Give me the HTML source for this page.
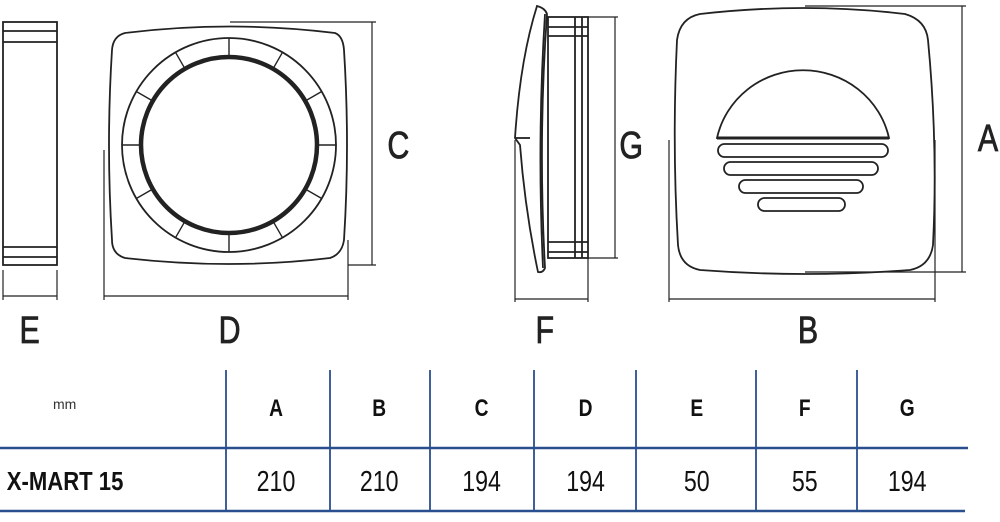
<!DOCTYPE html>
<html><head><meta charset="utf-8"><style>
html,body{margin:0;padding:0;background:#fff;width:1000px;height:522px;overflow:hidden}
svg{display:block}
.t{font-family:"Liberation Sans",sans-serif}
</style></head><body>
<svg width="1000" height="522" viewBox="0 0 1000 522" xmlns="http://www.w3.org/2000/svg">
<g fill="none" stroke="#222" stroke-width="1.8">
<!-- side view E -->
<rect x="3" y="22" width="54" height="243"/>
<line x1="3" y1="31" x2="57" y2="31"/><line x1="3" y1="42" x2="57" y2="42"/>
<line x1="3" y1="247" x2="57" y2="247"/><line x1="3" y1="257" x2="57" y2="257"/>
<line x1="3" y1="270" x2="3" y2="300" stroke-width="1.2"/><line x1="57" y1="270" x2="57" y2="300" stroke-width="1.2"/>
<line x1="3" y1="296" x2="57" y2="296" stroke-width="1.2"/>
<!-- front C/D -->
<path d="M125,33 Q230,20 335,33 Q343,36 344,50 Q350,145 344,240 Q342,254 330,258 Q230,270 125,258 Q112,254 112,240 Q106,145 112,50 Q113,36 125,33 Z"/>
<circle cx="229" cy="145" r="107"/>
<circle cx="229" cy="145" r="88" stroke-width="4.5"/>
<g stroke-width="1.4">
<line x1="229" y1="38" x2="229" y2="57"/><line x1="229" y1="233" x2="229" y2="252"/>
<line x1="122" y1="145" x2="141" y2="145"/><line x1="317" y1="145" x2="336" y2="145"/>
<line x1="175.5" y1="52.3" x2="185" y2="68.8"/><line x1="282.5" y1="52.3" x2="273" y2="68.8"/>
<line x1="175.5" y1="237.7" x2="185" y2="221.2"/><line x1="282.5" y1="237.7" x2="273" y2="221.2"/>
<line x1="136.3" y1="91.5" x2="152.8" y2="101"/><line x1="321.7" y1="91.5" x2="305.2" y2="101"/>
<line x1="136.3" y1="198.5" x2="152.8" y2="189"/><line x1="321.7" y1="198.5" x2="305.2" y2="189"/>
</g>
<g stroke-width="1.2">
<line x1="230" y1="22" x2="376" y2="22"/><line x1="348" y1="265" x2="376" y2="265"/>
<line x1="372" y1="22" x2="372" y2="265"/>
<line x1="104" y1="150" x2="104" y2="300"/><line x1="348" y1="240" x2="348" y2="300"/>
<line x1="104" y1="296" x2="348" y2="296"/>
</g>
<!-- side F/G -->
<path d="M537,6 Q545,8 547,14 Q538,140 545,268 Q543,273 538,272 Q525,210 520,145 L515,138 Q520,60 537,6 Z"/>
<path d="M545,14 Q537,140 543,268"/>
<line x1="515" y1="138" x2="530" y2="138"/>
<rect x="548" y="17" width="40" height="241"/>
<line x1="575" y1="17" x2="575" y2="258"/><line x1="582" y1="17" x2="582" y2="258"/>
<line x1="548" y1="27" x2="588" y2="27"/><line x1="548" y1="36" x2="588" y2="36"/>
<line x1="548" y1="242" x2="588" y2="242"/><line x1="548" y1="252" x2="588" y2="252"/>
<g stroke-width="1.2">
<line x1="588" y1="17" x2="618" y2="17"/><line x1="588" y1="258" x2="618" y2="258"/>
<line x1="615" y1="17" x2="615" y2="258"/>
<line x1="515" y1="140" x2="515" y2="302"/><line x1="588" y1="258" x2="588" y2="302"/>
<line x1="515" y1="299" x2="588" y2="299"/>
</g>
<!-- front A/B -->
<path d="M700,14 Q805,2 905,14 Q926,20 928,40 Q938,145 933,245 Q930,266 910,270 Q805,278 700,270 Q680,266 678,245 Q672,145 677,40 Q680,18 700,14 Z"/>
<path d="M717,138 A88,86 0 0 1 889,138 Z"/>
<line x1="717" y1="138" x2="889" y2="138" stroke-width="3"/>
<rect x="718" y="144" width="170" height="13" rx="6.5"/>
<rect x="724" y="162" width="154" height="13" rx="6.5"/>
<rect x="739" y="180" width="124" height="13" rx="6.5"/>
<rect x="758" y="198" width="87" height="13" rx="6.5"/>
<g stroke-width="1.2">
<line x1="805" y1="6" x2="966" y2="6"/><line x1="805" y1="272" x2="966" y2="272"/>
<line x1="962" y1="6" x2="962" y2="272"/>
<line x1="669" y1="140" x2="669" y2="302"/><line x1="935" y1="140" x2="935" y2="302"/>
<line x1="669" y1="299" x2="935" y2="299"/>
</g>
</g>
<g class="t" fill="#222" stroke="#222" stroke-width="0.8" font-size="38" text-anchor="middle" transform="scale(0.8,1)">
<text x="37" y="343">E</text>
<text x="287" y="343">D</text>
<text x="498" y="158">C</text>
<text x="681" y="343">F</text>
<text x="789" y="158">G</text>
<text x="1010" y="343">B</text>
<text x="1235" y="151">A</text>
</g>
<!-- table -->
<g stroke="#2a4f8f" stroke-width="2.5">
<line x1="0" y1="448" x2="968" y2="448"/><line x1="0" y1="511" x2="965" y2="511"/>
</g>
<g stroke="#2a4f8f" stroke-width="1.8">
<line x1="226" y1="370" x2="226" y2="512"/><line x1="330" y1="370" x2="330" y2="512"/>
<line x1="430" y1="370" x2="430" y2="512"/><line x1="534" y1="370" x2="534" y2="512"/>
<line x1="636" y1="370" x2="636" y2="512"/><line x1="756" y1="370" x2="756" y2="512"/>
<line x1="857" y1="370" x2="857" y2="512"/>
</g>
<text x="53" y="409" class="t" font-size="14" fill="#333">mm</text>
<g class="t" font-weight="bold" font-size="24" fill="#111" text-anchor="middle" transform="scale(0.8,1)">
<text x="345" y="416">A</text><text x="474" y="416">B</text><text x="602" y="416">C</text>
<text x="732" y="416">D</text><text x="871" y="416">E</text><text x="1006" y="416">F</text><text x="1134" y="416">G</text>
</g>
<g transform="scale(0.85,1)"><text x="8" y="490" class="t" font-weight="bold" font-size="26" fill="#111">X-MART 15</text></g>
<g class="t" font-size="29" fill="#111" text-anchor="middle" transform="scale(0.8,1)">
<text x="345" y="491">210</text><text x="474" y="491">210</text><text x="602" y="491">194</text>
<text x="732" y="491">194</text><text x="871" y="491">50</text><text x="1006" y="491">55</text><text x="1134" y="491">194</text>
</g>
</svg>
</body></html>
